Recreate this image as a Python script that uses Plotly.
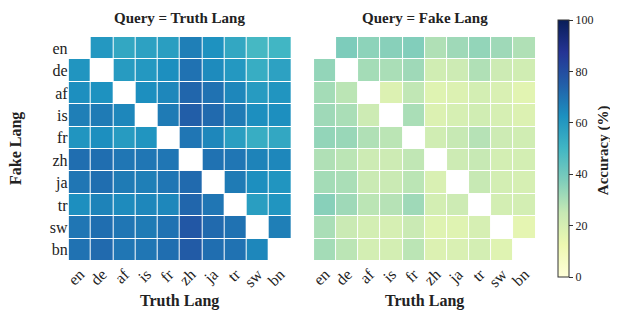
import plotly.graph_objects as go

langs = ["en", "de", "af", "is", "fr", "zh", "ja", "tr", "sw", "bn"]

# Query = Truth Lang (rows: fake lang, cols: truth lang)
truth_vals = [
    [None, 60, 55, 57, 58, 67, 62, 55, 49, 50],
    [61, None, 59, 60, 63, 70, 64, 60, 53, 57],
    [63, 62, None, 63, 65, 73, 70, 65, 59, 61],
    [67, 68, 65, None, 68, 75, 72, 68, 63, 63],
    [61, 63, 59, 61, None, 69, 65, 58, 53, 55],
    [71, 71, 69, 69, 69, None, 70, 69, 66, 65],
    [69, 71, 68, 67, 69, 72, None, 68, 63, 61],
    [63, 66, 64, 65, 65, 73, 69, None, 58, 61],
    [69, 71, 69, 68, 70, 77, 72, 70, None, 67],
    [70, 72, 69, 69, 71, 76, 71, 70, 65, None],
]

# Query = Fake Lang
fake_vals = [
    [None, 38, 35, 36, 37, 29, 32, 34, 32, 29],
    [34, None, 31, 30, 32, 22, 23, 29, 23, 22],
    [31, 27, None, 18, 26, 17, 18, 21, 19, 16],
    [32, 30, 23, None, 30, 18, 20, 22, 20, 18],
    [34, 33, 29, 27, None, 22, 25, 28, 23, 22],
    [29, 27, 23, 23, 26, None, 23, 25, 21, 21],
    [31, 30, 24, 24, 27, 19, None, 25, 21, 20],
    [36, 32, 27, 28, 32, 21, 23, None, 21, 21],
    [30, 24, 21, 20, 24, 17, 17, 20, None, 15],
    [31, 27, 21, 21, 27, 18, 19, 21, 17, None],
]

titles = ["Query = Truth Lang", "Query = Fake Lang"]
x_title = "Truth Lang"
y_title = "Fake Lang"
cbar_title = "Accuracy (%)"
cbar_ticks = [0, 20, 40, 60, 80, 100]

ylgnbu = [
    [0.0, "#ffffd9"], [0.125, "#edf8b1"], [0.25, "#c7e9b4"], [0.375, "#7fcdbb"],
    [0.5, "#41b6c4"], [0.625, "#1d91c0"], [0.75, "#225ea8"], [0.875, "#253494"],
    [1.0, "#081d58"],
]

W, H = 618, 316
FONT = "Liberation Serif"
TXT = "#222222"

fig = go.Figure()

fig.add_trace(go.Heatmap(
    z=truth_vals, x=langs, y=langs, colorscale=ylgnbu, zmin=0, zmax=100,
    xgap=1, ygap=1, xaxis="x", yaxis="y", showscale=False, hoverongaps=False,
))
fig.add_trace(go.Heatmap(
    z=fake_vals, x=langs, y=langs, colorscale=ylgnbu, zmin=0, zmax=100,
    xgap=1, ygap=1, xaxis="x2", yaxis="y2", hoverongaps=False,
    colorbar=dict(
        x=550 / W, xanchor="left", xpad=0, ypad=0, thickness=11, thicknessmode="pixels",
        len=(269 - 12) / H, lenmode="fraction", y=1 - (12 + 269) / 2 / H, yanchor="middle",
        outlinewidth=1, outlinecolor="#333333",
        tickvals=cbar_ticks, ticks="outside", ticklen=4, tickcolor="#333333",
        tickfont=dict(family=FONT, size=12, color=TXT),
    ),
))

xd1 = [57 / W, 281 / W]
xd2 = [304 / W, 527 / W]
yd = [1 - 253 / H, 1 - 29 / H]

axis_common = dict(showgrid=False, zeroline=False, showline=False, ticks="",
                   tickfont=dict(family=FONT, size=16, color=TXT))

fig.update_layout(
    width=W, height=H, margin=dict(l=0, r=0, t=0, b=0),
    paper_bgcolor="white", plot_bgcolor="white",
    font=dict(family=FONT, color=TXT),
    xaxis=dict(domain=xd1, anchor="y", tickangle=-45, **axis_common),
    yaxis=dict(domain=yd, anchor="x", autorange="reversed", **axis_common),
    xaxis2=dict(domain=xd2, anchor="y2", tickangle=-45, **axis_common),
    yaxis2=dict(domain=yd, anchor="x2", autorange="reversed", showticklabels=False,
                **axis_common),
)

for t, xd in zip(titles, [xd1, xd2]):
    cx = (xd[0] + xd[1]) / 2
    fig.add_annotation(
        text=f"<b>{t}</b>", x=cx, y=1 - 10 / H, borderpad=0,
        xref="paper", yref="paper", showarrow=False, xanchor="center", yanchor="middle",
        font=dict(family=FONT, size=15, color=TXT),
    )
    fig.add_annotation(
        text=f"<b>{x_title}</b>", x=cx, y=1 - 293 / H, borderpad=0,
        xref="paper", yref="paper", showarrow=False, xanchor="center", yanchor="middle",
        font=dict(family=FONT, size=16, color=TXT),
    )

fig.add_annotation(
    text=f"<b>{y_title}</b>", x=4 / W, y=1 - 140 / H, textangle=-90, borderpad=0,
    xref="paper", yref="paper", showarrow=False, xanchor="center", yanchor="middle",
    font=dict(family=FONT, size=16, color=TXT),
)
fig.add_annotation(
    text=f"<b>{cbar_title}</b>", x=596 / W, y=1 - 142 / H, textangle=-90, borderpad=0,
    xref="paper", yref="paper", showarrow=False, xanchor="center", yanchor="middle",
    font=dict(family=FONT, size=15, color=TXT),
)

fig.write_html("out.html")
